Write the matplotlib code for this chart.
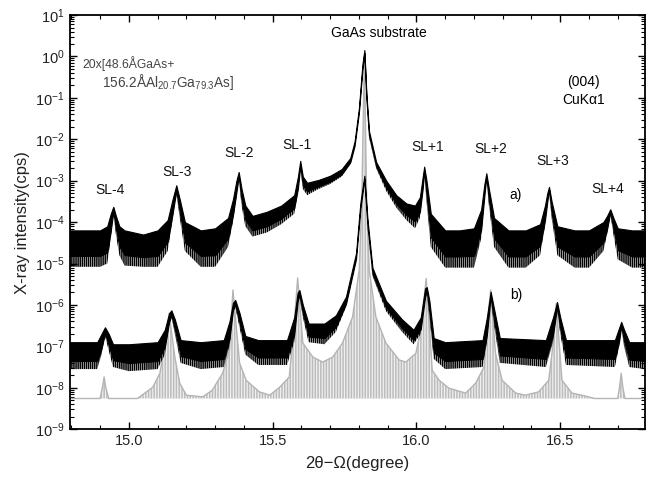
import matplotlib
matplotlib.use("Agg")
import matplotlib.pyplot as plt
from matplotlib.ticker import LogLocator, MultipleLocator, NullFormatter
import numpy as np

plt.rcParams['font.family'] = ['Liberation Sans', 'DejaVu Sans']
plt.rcParams['mathtext.fontset'] = 'custom'
plt.rcParams['mathtext.rm'] = 'Liberation Sans'
plt.rcParams['mathtext.it'] = 'Liberation Sans:italic'
plt.rcParams['hatch.linewidth'] = 1.1

# curve a) measured, log10(intensity): position, lower / upper edge of the noisy trace
a_x = [14.795, 14.85, 14.90, 14.925, 14.937, 14.946, 14.955, 14.967, 14.985, 15.05,
       15.10, 15.135, 15.152, 15.165, 15.177, 15.195, 15.25, 15.30, 15.345, 15.362,
       15.374, 15.382, 15.392, 15.405, 15.43, 15.48, 15.53, 15.575, 15.588, 15.596,
       15.605, 15.62, 15.66, 15.70, 15.74, 15.77, 15.785, 15.80, 15.812, 15.819,
       15.826, 15.835, 15.86, 15.895, 15.93, 15.965, 15.995, 16.012, 16.022, 16.027,
       16.035, 16.05, 16.10, 16.15, 16.20, 16.225, 16.236, 16.243, 16.252, 16.27,
       16.32, 16.38, 16.43, 16.447, 16.455, 16.461, 16.47, 16.49, 16.55, 16.60,
       16.65, 16.663, 16.674, 16.685, 16.70, 16.75, 16.795]
a_hi = [-4.2, -4.2, -4.2, -4.1, -3.8, -3.63, -3.85, -4.1, -4.2, -4.3,
        -4.2, -3.95, -3.45, -3.11, -3.45, -4.0, -4.2, -4.15, -3.9, -3.45,
        -3.0, -2.79, -3.2, -3.6, -3.85, -3.75, -3.6, -3.35, -2.9, -2.52,
        -2.9, -3.05, -2.98, -2.88, -2.72, -2.45, -2.05, -1.25, -0.2, 0.155,
        -0.9, -1.8, -2.55, -3.0, -3.35, -3.55, -3.6, -3.4, -2.9, -2.66,
        -3.0, -3.8, -4.2, -4.2, -4.15, -3.7, -3.1, -2.82, -3.2, -3.9,
        -4.2, -4.2, -4.05, -3.6, -3.3, -3.15, -3.5, -4.1, -4.2, -4.2,
        -4.0, -3.85, -3.69, -3.9, -4.15, -4.2, -4.2]
a_lo = [-5.08, -5.08, -5.08, -5.0, -4.4, -3.8, -4.3, -4.8, -5.05, -5.08,
        -5.08, -4.7, -3.95, -3.3, -3.9, -4.7, -5.08, -5.08, -4.6, -4.0,
        -3.4, -2.95, -3.6, -4.1, -4.35, -4.25, -4.05, -3.8, -3.3, -2.7,
        -3.2, -3.35, -3.2, -3.08, -2.9, -2.6, -2.2, -1.4, -0.4, 0.05,
        -1.05, -1.95, -2.7, -3.25, -3.65, -3.95, -4.15, -3.9, -3.3, -2.8,
        -3.5, -4.6, -5.1, -5.1, -5.1, -4.4, -3.5, -2.95, -3.6, -4.6,
        -5.1, -5.1, -4.8, -4.1, -3.6, -3.25, -3.9, -4.8, -5.1, -5.1,
        -4.7, -4.3, -3.8, -4.3, -4.9, -5.1, -5.1]

# curve b) measured
b_x = [14.795, 14.89, 14.905, 14.917, 14.93, 14.945, 15.00, 15.10, 15.125, 15.14,
       15.148, 15.16, 15.18, 15.25, 15.33, 15.35, 15.362, 15.37, 15.385, 15.405,
       15.45, 15.55, 15.575, 15.587, 15.593, 15.605, 15.625, 15.68, 15.72, 15.755,
       15.79, 15.805, 15.819, 15.83, 15.847, 15.894, 15.95, 15.99, 16.015, 16.03,
       16.036, 16.045, 16.06, 16.10, 16.23, 16.245, 16.258, 16.27, 16.29, 16.45,
       16.475, 16.489, 16.50, 16.52, 16.69, 16.705, 16.712, 16.722, 16.74, 16.795]
b_hi = [-6.9, -6.9, -6.7, -6.54, -6.7, -6.95, -6.95, -6.9, -6.6, -6.2,
        -6.13, -6.35, -6.85, -6.9, -6.85, -6.4, -5.95, -5.88, -6.2, -6.75,
        -6.85, -6.85, -6.3, -5.7, -5.64, -6.0, -6.45, -6.45, -6.25, -5.8,
        -4.75, -3.54, -2.88, -3.95, -5.1, -5.9, -6.35, -6.6, -6.3, -5.6,
        -5.57, -5.9, -6.8, -6.9, -6.85, -6.3, -5.68, -6.1, -6.8, -6.85,
        -6.3, -5.93, -6.3, -6.85, -6.85, -6.55, -6.41, -6.6, -6.9, -6.9]
b_lo = [-7.55, -7.55, -7.2, -6.75, -7.1, -7.5, -7.6, -7.55, -7.2, -6.5,
        -6.3, -6.7, -7.4, -7.55, -7.5, -7.0, -6.2, -6.05, -6.55, -7.2,
        -7.45, -7.45, -6.9, -6.0, -5.8, -6.3, -6.9, -6.95, -6.65, -6.05,
        -4.95, -3.75, -3.0, -4.15, -5.3, -6.15, -6.65, -6.95, -6.7, -5.9,
        -5.7, -6.3, -7.3, -7.55, -7.5, -6.9, -5.85, -6.5, -7.4, -7.5,
        -6.9, -6.1, -6.7, -7.45, -7.5, -7.0, -6.55, -7.0, -7.5, -7.55]

# simulated curve (grey): envelope of the thickness fringes, fringe floor
g_x = [14.795, 14.90, 14.908, 14.914, 14.92, 14.93, 15.03, 15.083, 15.108, 15.13,
       15.14, 15.16, 15.177, 15.20, 15.257, 15.29, 15.326, 15.35, 15.362, 15.385,
       15.408, 15.454, 15.49, 15.524, 15.558, 15.576, 15.587, 15.605, 15.64, 15.674,
       15.709, 15.743, 15.778, 15.801, 15.81, 15.819, 15.827, 15.836, 15.859, 15.894,
       15.94, 15.963, 15.998, 16.015, 16.034, 16.055, 16.079, 16.113, 16.171, 16.206,
       16.235, 16.248, 16.258, 16.275, 16.298, 16.345, 16.379, 16.425, 16.46, 16.478,
       16.486, 16.506, 16.541, 16.587, 16.62, 16.70, 16.706, 16.712, 16.718, 16.725,
       16.795]
g_top = [-8.26, -8.26, -8.0, -7.74, -8.0, -8.26, -8.26, -7.99, -7.65, -6.78,
         -6.2, -7.26, -7.89, -8.18, -8.22, -8.06, -7.65, -7.09, -5.64, -7.4,
         -7.82, -8.1, -8.18, -7.99, -7.74, -6.37, -5.35, -6.92, -7.26, -7.38,
         -7.26, -6.92, -6.29, -5.16, -3.54, 0.0, -3.54, -5.16, -6.29, -6.92,
         -7.33, -7.38, -7.17, -6.61, -5.36, -7.58, -7.82, -8.01, -8.13, -7.89,
         -7.5, -6.37, -5.64, -7.17, -7.82, -8.13, -8.18, -8.1, -7.82, -6.78,
         -5.96, -7.82, -8.13, -8.2, -8.26, -8.26, -8.0, -7.65, -8.0, -8.26,
         -8.26]
g_floor = -8.26

peak_labels = ["SL-4", "SL-3", "SL-2", "SL-1", "SL+1", "SL+2", "SL+3", "SL+4"]
label_x = [14.934, 15.168, 15.385, 15.583, 16.04, 16.259, 16.474, 16.665]
label_y = [-3.23, -2.79, -2.33, -2.14, -2.19, -2.24, -2.53, -3.2]

fig = plt.figure(figsize=(6.47, 4.86), dpi=100)
ax = fig.add_axes([0.108, 0.117, 0.889, 0.852])
ax.set_yscale('log')

gx = np.array(g_x)
ax.fill_between(gx, 10.0 ** g_floor, 10.0 ** np.array(g_top), facecolor='#f0f0f0',
                edgecolor='#bcbcbc', hatch='||||||', linewidth=0, zorder=1)
ax.plot(gx, 10.0 ** np.array(g_top), color='#b4b4b4', lw=1.0, zorder=2)

# measured scans: solid core, finely striped lower part for the counting noise
for xs, lo, hi in [(b_x, b_lo, b_hi), (a_x, a_lo, a_hi)]:
    xs = np.array(xs)
    lo = np.array(lo)
    hi = np.array(hi)
    core = lo + 0.3 * (hi - lo)
    ax.fill_between(xs, 10.0 ** core, 10.0 ** hi, color='black', linewidth=0.8, zorder=3)
    ax.fill_between(xs, 10.0 ** lo, 10.0 ** core, facecolor='none', edgecolor='black',
                    hatch='||||||||', linewidth=0, zorder=3)

ax.set_xlim(14.795, 16.795)
ax.set_ylim(1e-9, 1e1)
ax.xaxis.set_major_locator(MultipleLocator(0.5))
ax.xaxis.set_minor_locator(MultipleLocator(0.1))
ax.xaxis.set_major_formatter(matplotlib.ticker.FormatStrFormatter('%.1f'))
ax.yaxis.set_major_locator(LogLocator(base=10, numticks=20))
ax.yaxis.set_minor_locator(LogLocator(base=10, subs=np.arange(2, 10), numticks=20))
ax.yaxis.set_minor_formatter(NullFormatter())
ax.tick_params(which='both', direction='in', top=True, right=True,
               labelsize=10.5, labelcolor='#222222')
ax.tick_params(which='major', length=5, width=1)
ax.tick_params(which='minor', length=3, width=0.8)
for s in ax.spines.values():
    s.set_linewidth(1.3)

ax.set_xlabel('2θ−Ω(degree)', fontsize=12, color='#222222', labelpad=6)
ax.set_ylabel('X-ray intensity(cps)', fontsize=12, color='#222222', labelpad=4)

for t, x, y in zip(peak_labels, label_x, label_y):
    ax.text(x, 10.0 ** y, t, fontsize=10, ha='center', va='center', color='#111111')

ax.text(15.868, 10.0 ** 0.565, 'GaAs substrate', fontsize=10, ha='center', va='center')
ax.text(16.582, 10.0 ** -0.62, '(004)', fontsize=10, ha='center', va='center')
ax.text(16.582, 10.0 ** -1.05, 'CuKα1', fontsize=10, ha='center', va='center')
ax.text(16.346, 10.0 ** -3.35, 'a)', fontsize=10, ha='center', va='center')
ax.text(16.346, 10.0 ** -5.76, 'b)', fontsize=10, ha='center', va='center')
ax.text(14.837, 10.0 ** -0.17, '20x[48.6ÅGaAs+', fontsize=8.7, ha='left', va='center',
        color='#444444')
ax.text(14.906, 10.0 ** -0.62, '156.2ÅAl$_{20.7}$Ga$_{79.3}$As]', fontsize=9.8,
        ha='left', va='center', color='#444444')

fig.savefig('out.png', dpi=100)
